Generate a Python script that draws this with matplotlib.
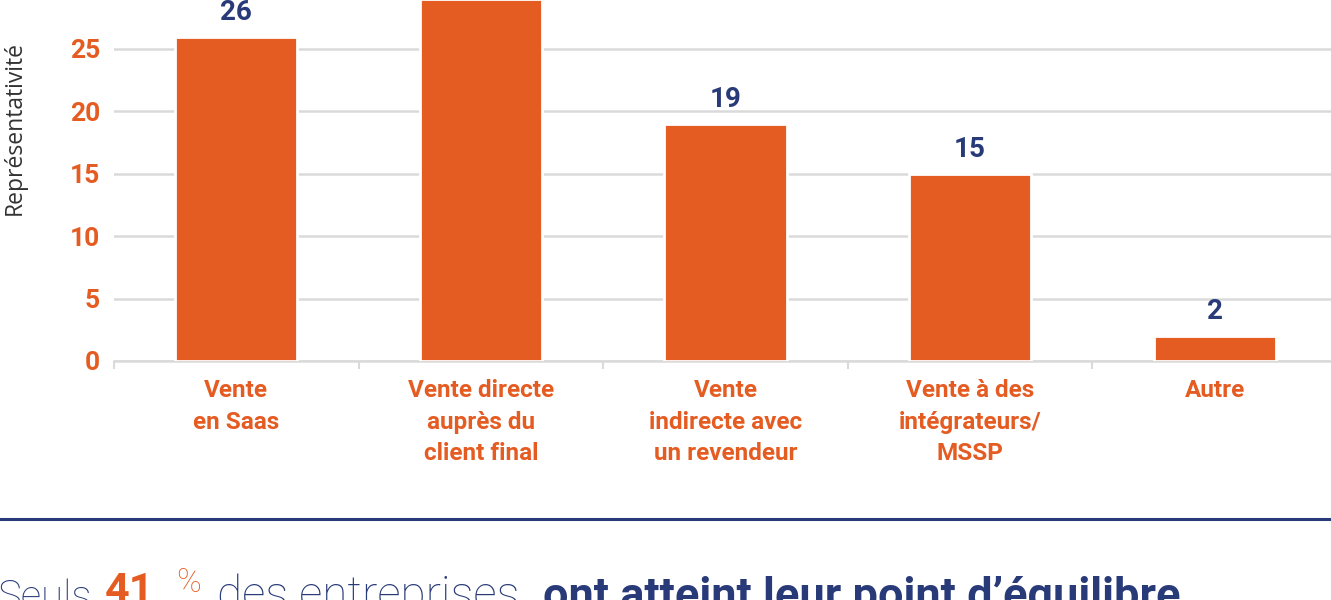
import numpy as np
from matplotlib import pyplot as plt

# data
categories = [
    "Vente\nen Saas",
    "Vente directe\nauprès du\nclient final",
    "Vente\nindirecte avec\nun revendeur",
    "Vente à des\nintégrateurs/\nMSSP",
    "Autre",
]
values = [26, 29, 19, 15, 2]
yticks = [0, 5, 10, 15, 20, 25]

ORANGE = "#e55c22"
NAVY = "#283a78"
GRID = "#dadada"

plt.rcParams["font.family"] = ["Roboto", "DejaVu Sans"]

W, H = 1331, 600
fig = plt.figure(figsize=(W / 100, H / 100), dpi=100)

# axes extends past the top/right of the figure, like the cropped original
ax = fig.add_axes([114 / W, (H - 361) / H, (1337 - 114) / W, 374.4 / H])
x = np.arange(len(categories))
bars = ax.bar(x, values, width=0.5, color=ORANGE, edgecolor="white",
              linewidth=2, zorder=3)

for xi, v in zip(x, values):
    ax.annotate(f"{v}", (xi, v), xytext=(0, 12), textcoords="offset points",
                ha="center", va="baseline", fontsize=20, fontweight="bold",
                color=NAVY, annotation_clip=False)

ax.set_xlim(-0.5, len(categories) - 0.5)
ax.set_ylim(0, 30)
ax.set_yticks(yticks)
ax.yaxis.grid(True, color=GRID, linewidth=1.8, zorder=0)
ax.set_axisbelow(True)

for s in ["top", "right", "left"]:
    ax.spines[s].set_visible(False)
ax.spines["bottom"].set_color(GRID)
ax.spines["bottom"].set_linewidth(1.8)

ax.tick_params(axis="y", length=0, pad=10, labelsize=19, labelcolor=ORANGE)
for lab in ax.get_yticklabels():
    lab.set_fontweight("bold")

ax.set_xticks(x)
ax.set_xticklabels(categories, fontsize=17.5, fontweight="bold", color=ORANGE,
                   linespacing=1.48)
ax.tick_params(axis="x", which="major", length=0, pad=13)
ax.set_xticks(np.arange(len(categories) + 1) - 0.5, minor=True)
ax.tick_params(axis="x", which="minor", length=6, width=1.5, color=GRID)

ax.set_ylabel("Représentativité", fontsize=16.5, color="#333333",
              family=["Open Sans", "DejaVu Sans"])
ax.yaxis.set_label_coords(-0.071, (361 - 128) / 374.4)

# separator line
fig.add_artist(plt.Line2D([0, 1], [1 - 519 / H, 1 - 519 / H], color=NAVY,
                          linewidth=2.2, transform=fig.transFigure))

# caption at the bottom, cut by the frame
base = 1 - 609 / H
fig.text(-3 / W, base, "Seuls", fontsize=29, fontweight="light", color=NAVY,
         va="baseline")
fig.text(105 / W, 1 - 603 / H, "41", fontsize=31, fontweight="bold",
         color=ORANGE, va="baseline")
fig.text(176 / W, 1 - 592 / H, "%", fontsize=24, fontweight="light",
         color=ORANGE, va="baseline")
fig.text(217 / W, base, "des entreprises", fontsize=33, fontweight="light",
         color=NAVY, va="baseline")
fig.text(543 / W, base, "ont atteint leur point d\u2019équilibre", fontsize=32.5,
         fontweight="bold", color=NAVY, va="baseline")

fig.savefig("out.png", dpi=100)
